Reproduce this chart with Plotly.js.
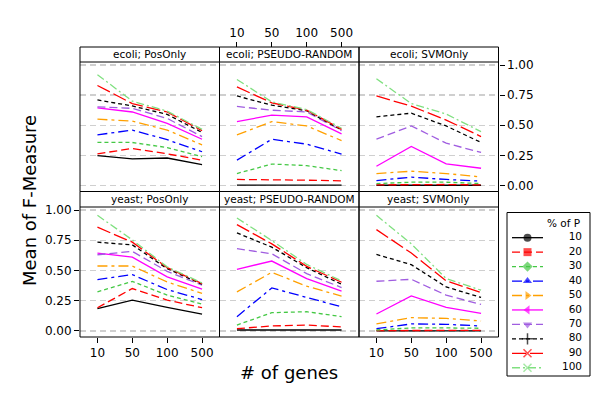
<!DOCTYPE html>
<html><head><meta charset="utf-8">
<script src="https://cdn.plot.ly/plotly-3.0.1.min.js"></script>
<style>html,body{margin:0;padding:0;background:#fff}#chart{width:600px;height:400px}</style>
</head><body><div id="chart"></div>
<script>
const genes = ['10', '50', '100', '500'];
const pctLevels = ['10', '20', '30', '40', '50', '60', '70', '80', '90', '100'];
const panelTitles = ['ecoli; PosOnly', 'ecoli; PSEUDO-RANDOM', 'ecoli; SVMOnly',
                     'yeast; PosOnly', 'yeast; PSEUDO-RANDOM', 'yeast; SVMOnly'];
const yTicks = [0, 0.25, 0.5, 0.75, 1];

// rows: % of P = 10..100 ; columns: # of genes = 10, 50, 100, 500
const ecoliPosOnly = [
  [0.247, 0.220, 0.228, 0.173],
  [0.263, 0.307, 0.263, 0.210],
  [0.357, 0.357, 0.315, 0.240],
  [0.420, 0.460, 0.380, 0.280],
  [0.550, 0.535, 0.460, 0.337],
  [0.645, 0.610, 0.516, 0.384],
  [0.653, 0.640, 0.557, 0.406],
  [0.710, 0.660, 0.590, 0.440],
  [0.830, 0.680, 0.610, 0.455],
  [0.920, 0.700, 0.617, 0.466]];
const ecoliPseudo = [
  [0.003, 0.003, 0.003, 0.003],
  [0.050, 0.050, 0.044, 0.038],
  [0.099, 0.178, 0.165, 0.123],
  [0.210, 0.384, 0.343, 0.260],
  [0.420, 0.530, 0.494, 0.373],
  [0.530, 0.584, 0.570, 0.428],
  [0.656, 0.625, 0.610, 0.455],
  [0.743, 0.667, 0.620, 0.460],
  [0.818, 0.686, 0.625, 0.466],
  [0.880, 0.694, 0.630, 0.475]];
const ecoliSVMOnly = [
  [0.002, 0.002, 0.002, 0.002],
  [0.005, 0.008, 0.008, 0.005],
  [0.016, 0.027, 0.027, 0.016],
  [0.041, 0.069, 0.050, 0.036],
  [0.099, 0.118, 0.099, 0.071],
  [0.160, 0.324, 0.180, 0.143],
  [0.384, 0.494, 0.351, 0.274],
  [0.570, 0.600, 0.494, 0.357],
  [0.743, 0.658, 0.543, 0.406],
  [0.886, 0.680, 0.593, 0.447]];
const yeastPosOnly = [
  [0.184, 0.255, 0.195, 0.140],
  [0.192, 0.351, 0.255, 0.192],
  [0.323, 0.410, 0.296, 0.222],
  [0.425, 0.466, 0.342, 0.260],
  [0.537, 0.537, 0.405, 0.310],
  [0.644, 0.611, 0.447, 0.345],
  [0.630, 0.658, 0.493, 0.378],
  [0.734, 0.712, 0.515, 0.386],
  [0.858, 0.734, 0.523, 0.392],
  [0.956, 0.753, 0.530, 0.397]];
const yeastPseudo = [
  [0.008, 0.008, 0.008, 0.008],
  [0.019, 0.041, 0.049, 0.033],
  [0.049, 0.151, 0.159, 0.118],
  [0.118, 0.356, 0.277, 0.200],
  [0.323, 0.485, 0.370, 0.288],
  [0.510, 0.578, 0.433, 0.329],
  [0.680, 0.638, 0.474, 0.359],
  [0.811, 0.693, 0.523, 0.386],
  [0.879, 0.720, 0.534, 0.403],
  [0.934, 0.748, 0.550, 0.414]];
const yeastSVMOnly = [
  [0.001, 0.001, 0.005, 0.001],
  [0.003, 0.005, 0.008, 0.005],
  [0.008, 0.025, 0.025, 0.022],
  [0.019, 0.058, 0.055, 0.041],
  [0.058, 0.110, 0.104, 0.082],
  [0.140, 0.290, 0.195, 0.145],
  [0.411, 0.427, 0.296, 0.219],
  [0.633, 0.548, 0.364, 0.277],
  [0.838, 0.644, 0.414, 0.318],
  [0.956, 0.720, 0.433, 0.337]];
const panels = [ecoliPosOnly, ecoliPseudo, ecoliSVMOnly, yeastPosOnly, yeastPseudo, yeastSVMOnly];

const colors = ['#000000', '#ff0000', '#44c844', '#0000ff', '#ffa000', '#ff00ff', '#a05de0', '#000000', '#ff0000', '#80e080'];
const dashes = ['solid', '8px,4px', '4px,3px', '10px,4px,3px,4px', '10px,4px,3px,4px', 'solid', '8px,4px', '4px,3px', '14px,4px', '8px,3px,2px,3px'];
const symbols = ['circle', 'square', 'diamond', 'triangle-up', 'triangle-right', 'triangle-left', 'triangle-down', 'cross-thin-open', 'x-thin-open', 'x-thin-open'];

const FONT = 'DejaVu Sans, Verdana, sans-serif';
const xDom = [[80 / 600, 219.5 / 600], [219.5 / 600, 359 / 600], [359 / 600, 498.5 / 600]];
const plotDom = [[1 - 191.5 / 400, 1 - 62 / 400], [1 - 337 / 400, 1 - 207 / 400]];
const stripDom = [[1 - 62 / 400, 1 - 47 / 400], [1 - 207 / 400, 1 - 191.5 / 400]];

const traces = [];
panels.forEach((data, p) => {
  const sfx = p === 0 ? '' : String(p + 1);
  data.forEach((vals, s) => {
    traces.push({
      x: genes, y: vals, xaxis: 'x' + sfx, yaxis: 'y' + sfx,
      type: 'scatter', mode: 'lines', showlegend: false, hoverinfo: 'skip',
      line: {color: colors[s], width: 1.3, dash: dashes[s]}
    });
  });
});

// custom legend (subplot 7)
pctLevels.forEach((lab, s) => {
  traces.push({
    x: [5, 20.5, 36], y: [s, s, s], xaxis: 'x7', yaxis: 'y7',
    type: 'scatter', mode: 'lines+markers', showlegend: false, hoverinfo: 'skip',
    line: {color: colors[s], width: 1.3, dash: dashes[s]},
    marker: {symbol: symbols[s], size: [0, 8, 0], color: colors[s], line: {color: colors[s], width: (s >= 7 ? 1.5 : 0)}}
  });
});
traces.push({
  x: pctLevels.map(() => 75), y: pctLevels.map((_, i) => i), text: pctLevels,
  xaxis: 'x7', yaxis: 'y7', type: 'scatter', mode: 'text', textposition: 'middle left',
  textfont: {family: FONT, size: 10.5, color: '#000'}, showlegend: false, hoverinfo: 'skip'
});

const layout = {
  width: 600, height: 400, margin: {l: 0, r: 0, t: 0, b: 0},
  paper_bgcolor: '#fff', plot_bgcolor: '#fff', showlegend: false,
  font: {family: FONT, size: 12, color: '#000'},
  shapes: [], annotations: []
};

for (let p = 0; p < 6; p++) {
  const r = Math.floor(p / 3), c = p % 3;
  const sfx = p === 0 ? '' : String(p + 1);
  const xa = {
    domain: xDom[c], anchor: 'y' + sfx, type: 'category', categoryorder: 'array', categoryarray: genes,
    range: [-0.5, 3.5], showgrid: false, zeroline: false, showline: false,
    showticklabels: false, ticks: '', tickfont: {family: FONT, size: 12, color: '#000'}
  };
  const ya = {
    domain: plotDom[r], anchor: 'x' + sfx, range: [-0.05, 1.025], tickvals: yTicks, tickformat: '.2f',
    showgrid: true, gridcolor: '#cfcfcf', gridwidth: 1.3, griddash: '6px,4px', zeroline: false, showline: false,
    showticklabels: false, ticks: '', tickfont: {family: FONT, size: 12, color: '#000'}
  };
  if (r === 1 && c !== 1) { xa.showticklabels = true; xa.ticks = 'outside'; xa.ticklen = 5; xa.tickcolor = '#000'; }
  if (r === 0 && c === 1) {
    xa.showticklabels = true; xa.ticks = 'outside'; xa.ticklen = 5; xa.tickcolor = '#000';
    xa.side = 'top'; xa.anchor = 'free'; xa.position = stripDom[0][1];
  }
  if (r === 1 && c === 0) { ya.showticklabels = true; ya.ticks = 'outside'; ya.ticklen = 5; ya.tickcolor = '#000'; }
  if (r === 0 && c === 2) { ya.showticklabels = true; ya.ticks = 'outside'; ya.ticklen = 5; ya.tickcolor = '#000'; ya.side = 'right'; }
  layout['xaxis' + sfx] = xa;
  layout['yaxis' + sfx] = ya;
  // panel border and strip
  layout.shapes.push({type: 'rect', xref: 'paper', yref: 'paper', x0: xDom[c][0], x1: xDom[c][1],
    y0: plotDom[r][0], y1: stripDom[r][1], line: {color: '#000', width: 1}, layer: 'above'});
  layout.shapes.push({type: 'line', xref: 'paper', yref: 'paper', x0: xDom[c][0], x1: xDom[c][1],
    y0: stripDom[r][0], y1: stripDom[r][0], line: {color: '#000', width: 1}, layer: 'above'});
  layout.annotations.push({xref: 'paper', yref: 'paper', x: (xDom[c][0] + xDom[c][1]) / 2,
    y: (stripDom[r][0] + stripDom[r][1]) / 2, text: panelTitles[p], showarrow: false,
    xanchor: 'center', yanchor: 'middle', font: {family: FONT, size: 10.5, color: '#000'}});
}

// legend subplot
layout.xaxis7 = {domain: [507 / 600, 590 / 600], anchor: 'y7', range: [0, 83], visible: false, fixedrange: true};
layout.yaxis7 = {domain: [1 - 375 / 400, 1 - 216 / 400], anchor: 'x7', range: [9.5, -1.5], visible: false, fixedrange: true};
layout.shapes.push({type: 'rect', xref: 'paper', yref: 'paper', x0: 507 / 600, x1: 590 / 600,
  y0: 1 - 376 / 400, y1: 1 - 212.5 / 400, line: {color: '#000', width: 1}});
layout.annotations.push({xref: 'x7', yref: 'y7', x: 75, y: -1, text: '% of P', showarrow: false,
  xanchor: 'right', yanchor: 'middle', font: {family: FONT, size: 10.5, color: '#000'}});

// axis titles
layout.annotations.push({xref: 'paper', yref: 'paper', x: 289 / 600, y: 1 - 372 / 400, text: '# of genes',
  showarrow: false, xanchor: 'center', yanchor: 'middle', font: {family: FONT, size: 18, color: '#000'}});
layout.annotations.push({xref: 'paper', yref: 'paper', x: 30 / 600, y: 1 - 201 / 400, text: 'Mean of F-Measure',
  showarrow: false, textangle: -90, xanchor: 'center', yanchor: 'middle', font: {family: FONT, size: 18, color: '#000'}});

Plotly.newPlot('chart', traces, layout, {staticPlot: true, displayModeBar: false});
</script>
</body></html>
